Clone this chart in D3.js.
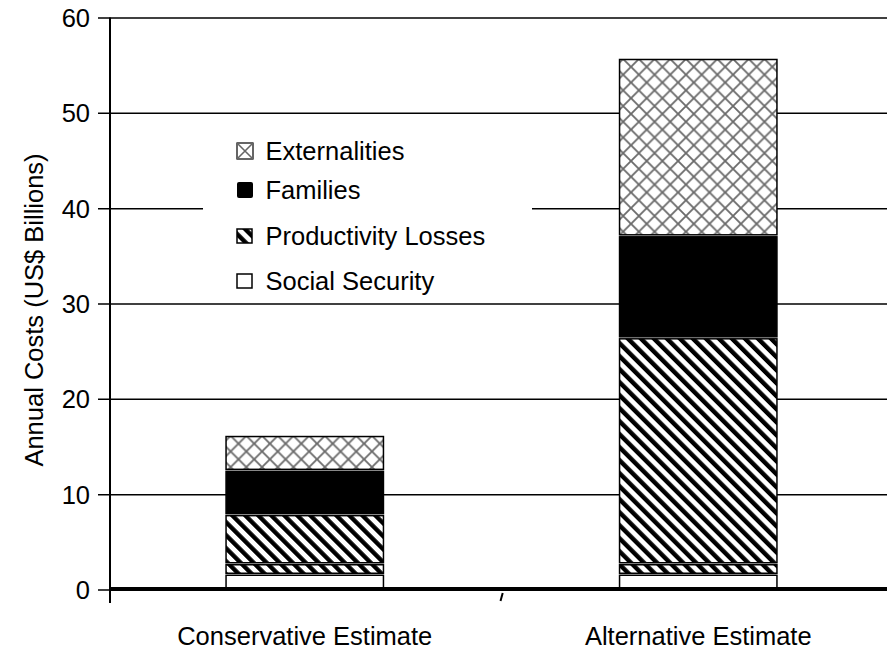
<!DOCTYPE html>
<html>
<head>
<meta charset="utf-8">
<script src="https://cdn.jsdelivr.net/npm/d3@7"></script>
<style>
  html, body { margin: 0; padding: 0; background: #fff; }
  svg { display: block; }
  text { font-family: "Liberation Sans", Arial, sans-serif; fill: #000; }
</style>
</head>
<body>
<svg id="chart" width="887" height="653"></svg>
<script>
// Annual costs by component, US$ billions
const categories = ["Conservative Estimate", "Alternative Estimate"];
const socialSecurity = [1.6, 1.6];
const productivityLossesA = [1.1, 1.1];
const productivityLossesB = [5.15, 23.7];
const families = [4.65, 10.7];
const externalities = [3.65, 18.6];

const yTicks = [0, 10, 20, 30, 40, 50, 60];
const legendLabels = ["Externalities", "Families", "Productivity Losses", "Social Security"];

const W = 887, H = 653;
const FONT = 25.5;

const svg = d3.select("#chart");
const defs = svg.append("defs");

// diagonal hatch for productivity losses
const hatch = defs.append("pattern")
  .attr("id", "hatch").attr("patternUnits", "userSpaceOnUse")
  .attr("width", 9.2).attr("height", 9.2)
  .attr("patternTransform", "rotate(-45)");
hatch.append("rect").attr("width", 9.2).attr("height", 9.2).attr("fill", "#fff");
hatch.append("rect").attr("width", 4.4).attr("height", 9.2).attr("fill", "#000");

// diamond cross-hatch for externalities
const cross = defs.append("pattern")
  .attr("id", "cross").attr("patternUnits", "userSpaceOnUse")
  .attr("width", 15.7).attr("height", 15.7).attr("x", 3).attr("y", 4);
cross.append("rect").attr("width", 15.7).attr("height", 15.7).attr("fill", "#fff");
cross.append("path").attr("d", "M0,0L15.7,15.7M15.7,0L0,15.7")
  .attr("stroke", "#6a6a6a").attr("stroke-width", 1.8).attr("fill", "none");

const series = [
  { key: "socialSecurity", values: socialSecurity, fill: "#fff" },
  { key: "productivityLossesA", values: productivityLossesA, fill: "url(#hatch)" },
  { key: "productivityLossesB", values: productivityLossesB, fill: "url(#hatch)" },
  { key: "families", values: families, fill: "#000" },
  { key: "externalities", values: externalities, fill: "url(#cross)" }
];

const rows = categories.map((c, i) => {
  const r = { category: c };
  series.forEach(s => r[s.key] = s.values[i]);
  return r;
});

const stacked = d3.stack().keys(series.map(s => s.key))(rows);

const x = d3.scaleBand().domain(categories).range([108, 895])
  .paddingInner(0.6).paddingOuter(0.3);
const y = d3.scaleLinear().domain([0, 60]).range([590, 18]);

const axisX = 110;

function label(g, tx, ty, str, anchor, rotate) {
  return g.append("text")
    .attr("transform", `translate(${tx},${ty})` + (rotate ? " rotate(-90)" : ""))
    .attr("text-anchor", anchor)
    .attr("font-size", FONT)
    .text(str);
}

// horizontal gridlines and left ticks
svg.append("g").selectAll("line")
  .data(yTicks.filter(d => d > 0))
  .join("line")
  .attr("x1", 98).attr("x2", W)
  .attr("y1", d => y(d)).attr("y2", d => y(d))
  .attr("stroke", "#000").attr("stroke-width", 1.5);
svg.append("line").attr("x1", 98).attr("x2", axisX)
  .attr("y1", y(0)).attr("y2", y(0))
  .attr("stroke", "#000").attr("stroke-width", 1.5);

// legend panel
const legend = svg.append("g");
legend.append("rect").attr("x", 203).attr("y", 125).attr("width", 329).attr("height", 170)
  .attr("fill", "#fff");

// stacked bars
const gBars = svg.append("g");
stacked.forEach((layer, li) => {
  gBars.append("g").selectAll("rect")
    .data(layer)
    .join("rect")
    .attr("x", d => x(d.data.category))
    .attr("width", x.bandwidth())
    .attr("y", d => y(d[1]) + 0.5)
    .attr("height", d => Math.max(0, y(d[0]) - y(d[1]) - 2))
    .attr("fill", series[li].fill)
    .attr("stroke", "#000")
    .attr("stroke-width", 1.5);
});

// axes
svg.append("line").attr("x1", axisX).attr("x2", axisX)
  .attr("y1", y(60) - 0.5).attr("y2", 603)
  .attr("stroke", "#000").attr("stroke-width", 2);
svg.append("line").attr("x1", axisX).attr("x2", W)
  .attr("y1", y(0) - 1).attr("y2", y(0) - 1)
  .attr("stroke", "#000").attr("stroke-width", 4);
// category divider tick
const mid = (x(categories[0]) + x.bandwidth() + x(categories[1])) / 2;
svg.append("line").attr("x1", mid + 1.2).attr("x2", mid - 1)
  .attr("y1", 593).attr("y2", 601)
  .attr("stroke", "#000").attr("stroke-width", 2);

// y tick labels
const gYLab = svg.append("g");
yTicks.forEach(v => label(gYLab, 90, y(v) + 9, String(v), "end"));

// y title
label(svg, 34, 310, "Annual Costs (US$ Billions)", "middle", true)
  .attr("dy", "0.35em");

// category labels
categories.forEach(c => label(svg, x(c) + x.bandwidth() / 2, 645, c, "middle"));

// legend entries
const legendY = [151, 190, 236, 281];
const lx = 237, ls = 16;
// externalities swatch
legend.append("rect").attr("x", lx).attr("y", legendY[0] - 8).attr("width", ls).attr("height", ls)
  .attr("fill", "#fff").attr("stroke", "#000").attr("stroke-width", 1.2);
legend.append("path")
  .attr("d", `M${lx},${legendY[0] - 8}L${lx + ls},${legendY[0] + 8}M${lx + ls},${legendY[0] - 8}L${lx},${legendY[0] + 8}`)
  .attr("stroke", "#666").attr("stroke-width", 1.6);
// families swatch
legend.append("rect").attr("x", lx).attr("y", legendY[1] - 8).attr("width", ls).attr("height", ls)
  .attr("rx", 2).attr("fill", "#000");
// productivity swatch
legend.append("rect").attr("x", lx).attr("y", legendY[2] - 7).attr("width", ls - 1).attr("height", ls - 2)
  .attr("fill", "url(#hatch)").attr("stroke", "#000").attr("stroke-width", 1.5);
// social security swatch
legend.append("rect").attr("x", lx).attr("y", legendY[3] - 7).attr("width", ls - 1).attr("height", ls - 2)
  .attr("fill", "#fff").attr("stroke", "#000").attr("stroke-width", 1.5);

legendLabels.forEach((lab, i) => label(legend, 265.5, legendY[i] + 9, lab, "start"));
</script>
</body>
</html>
